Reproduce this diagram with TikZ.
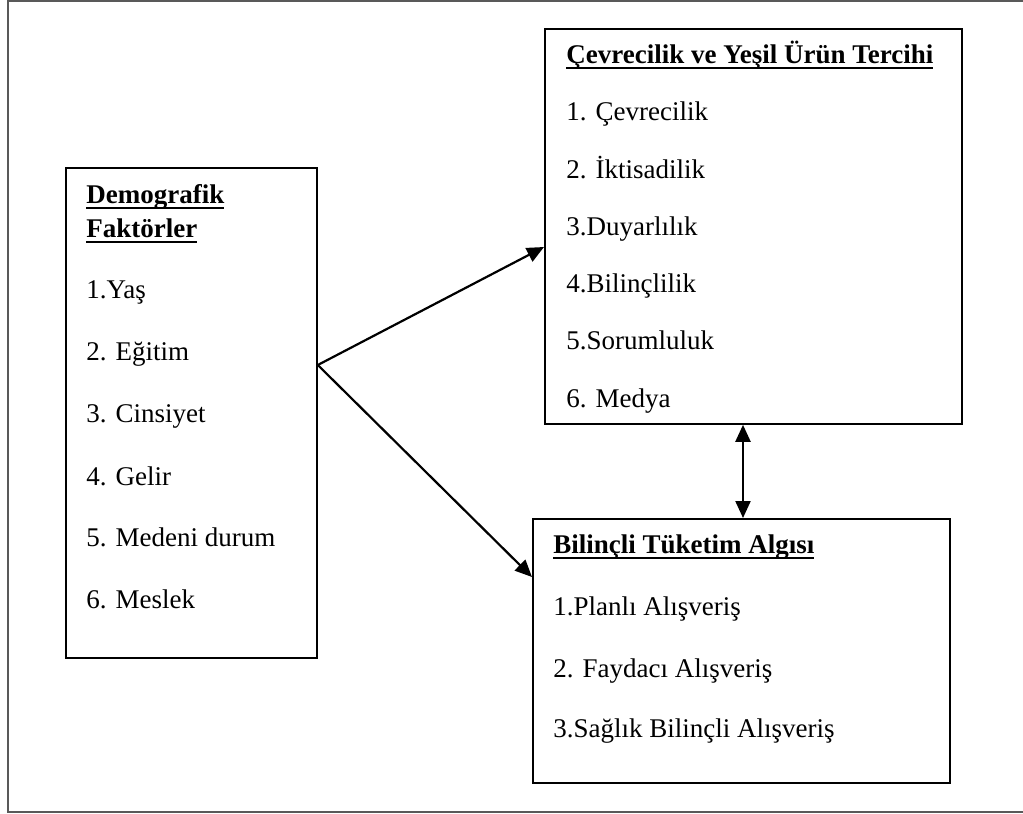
\documentclass[tikz,border=0pt]{standalone}
\usepackage{fontspec}
\setmainfont{Liberation Serif}
\usetikzlibrary{arrows.meta,calc}
\tikzset{
  boxnode/.style={draw=black,line width=0.9pt,rectangle,inner sep=0pt,anchor=north west},
  txt/.style={anchor=base west,inner sep=0pt,font=\fontsize{13.5pt}{16pt}\selectfont},
  ttl/.style={anchor=base west,inner sep=0pt,font=\fontsize{13.5pt}{16pt}\selectfont\bfseries},
  conn/.style={line width=1.1pt,-{Triangle[length=8.5pt,width=7.5pt]}},
  dconn/.style={line width=1.1pt,{Triangle[length=8.5pt,width=7.5pt]}-{Triangle[length=8.5pt,width=7.5pt]}},
  frame/.style={draw=black!65,line width=0.9pt}
}
\newcommand{\ulttl}[1]{\setbox0\hbox{#1}\rlap{\rule[-3.1pt]{\wd0}{1.2pt}}\box0}
\begin{document}
\begin{tikzpicture}[x=0.5pt,y=-0.5pt]
\useasboundingbox (0,0) rectangle (1023,814);
% outer frame (open on the right)
\draw[frame] (1023,0.8) -- (8,0.8) -- (8,812) -- (1023,812);
% boxes
\node[boxnode,minimum width=125.5pt,minimum height=245pt] (demo) at (65,167) {};
\node[boxnode,minimum width=208.5pt,minimum height=197.5pt] (cev) at (544,28) {};
\node[boxnode,minimum width=208.5pt,minimum height=132pt] (bil) at (532,518) {};
% left box texts
\node[ttl] (d0) at (86,203) {\ulttl{Demografik}};
\node[ttl] (d00) at (86,237) {\ulttl{Faktörler}};
\node[txt] (d1) at (86,298) {1.Yaş};
\node[txt] (d2) at (86,360) {2. Eğitim};
\node[txt] (d3) at (86,422) {3. Cinsiyet};
\node[txt] (d4) at (86,485) {4. Gelir};
\node[txt] (d5) at (86,546) {5. Medeni durum};
\node[txt] (d6) at (86,608) {6. Meslek};
% top right box texts
\node[ttl] (c0) at (566,63) {\ulttl{Çevrecilik ve Yeşil Ürün Tercihi}};
\node[txt] (c1) at (566,120) {1. Çevrecilik};
\node[txt] (c2) at (566,178) {2. İktisadilik};
\node[txt] (c3) at (566,235) {3.Duyarlılık};
\node[txt] (c4) at (566,292) {4.Bilinçlilik};
\node[txt] (c5) at (566,349) {5.Sorumluluk};
\node[txt] (c6) at (566,407) {6. Medya};
% bottom right box texts
\node[ttl] (b0) at (553,553) {\ulttl{Bilinçli Tüketim Algısı}};
\node[txt] (b1) at (553,615) {1.Planlı Alışveriş};
\node[txt] (b2) at (553,677) {2. Faydacı Alışveriş};
\node[txt] (b3) at (553,737) {3.Sağlık Bilinçli Alışveriş};
% connector points
\coordinate (src) at ($(demo.north east)+(0,198)$);
\coordinate (cin) at ($(cev.north west)+(0,219)$);
\coordinate (bin) at ($(bil.north west)+(0,59)$);
\coordinate (ctop) at ($(cev.south west)+(199,0)$);
\coordinate (btop) at ($(bil.north west)+(211,0)$);
% connectors
\draw[conn] (src) -- (cin);
\draw[conn] (src) -- (bin);
\draw[dconn] (ctop) -- (btop);
\end{tikzpicture}
\end{document}
